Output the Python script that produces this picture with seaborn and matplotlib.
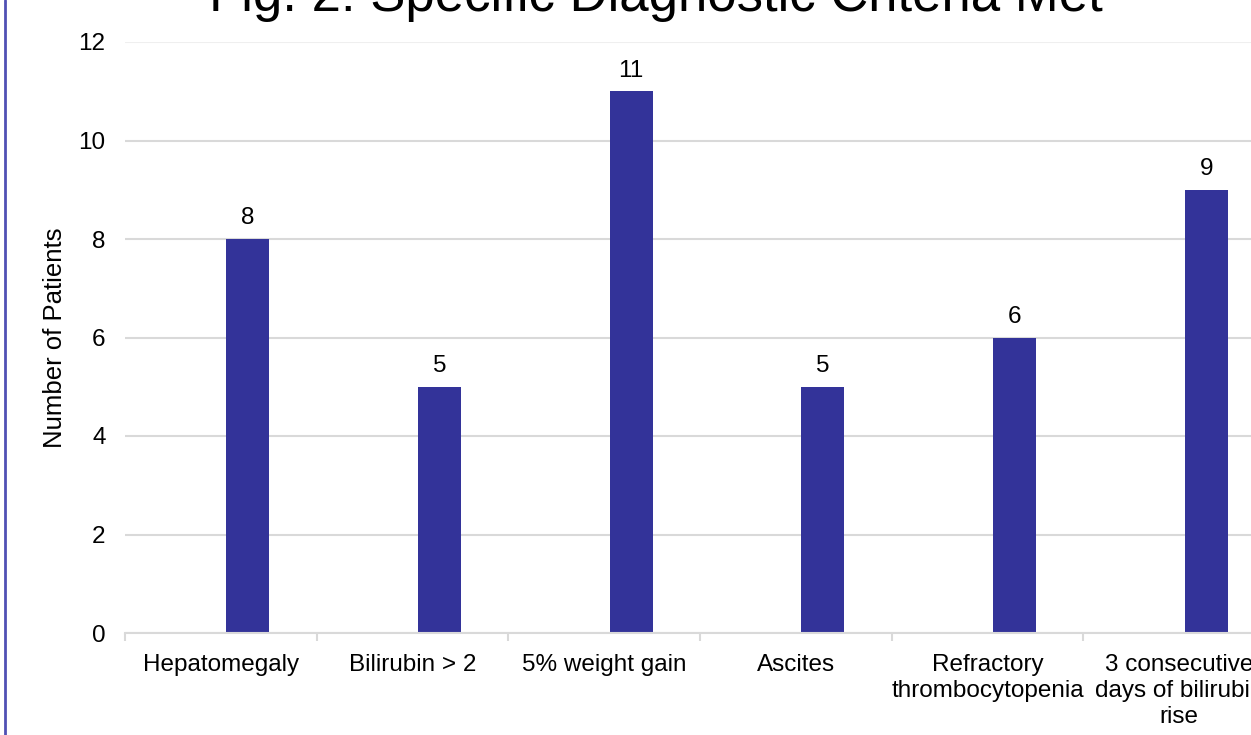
import matplotlib
matplotlib.use("Agg")
import matplotlib.pyplot as plt
import seaborn as sns
import pandas as pd
import numpy as np
from matplotlib.lines import Line2D

categories = ["Hepatomegaly", "Bilirubin > 2", "5% weight gain", "Ascites",
              "Refractory\nthrombocytopenia", "3 consecutive\ndays of bilirubin\nrise"]
patients = [8, 5, 11, 5, 6, 9]
y_ticks = [0, 2, 4, 6, 8, 10, 12]
title = "Fig. 2: Specific Diagnostic Criteria Met"
y_label = "Number of Patients"

sns.set_theme(style="white")
plt.rcParams['font.family'] = ['Liberation Sans', 'DejaVu Sans']
plt.rcParams['text.color'] = 'black'
plt.rcParams['xtick.color'] = 'black'
plt.rcParams['ytick.color'] = 'black'
plt.rcParams['axes.labelcolor'] = 'black'

W, H = 1251, 735
fig = plt.figure(figsize=(W / 100, H / 100), dpi=100)
fig.patch.set_facecolor("white")

# axes: left 125px, right 1275px (beyond crop), bottom y=633, top y=42
left, right = 125 / W, 1275 / W
bottom, top = 1 - 633 / H, 1 - 42 / H
ax = fig.add_axes([left, bottom, right - left, top - bottom])

df = pd.DataFrame({"cat": categories, "val": patients})
sns.barplot(data=df, x="cat", y="val", color="#333399", width=0.224,
            saturation=1, ax=ax)

# shift bars to the right (secondary series position in a clustered layout)
offset = 0.141
for p in ax.patches:
    p.set_x(p.get_x() + offset)
    p.set_edgecolor("none")

ax.bar_label(ax.containers[0], labels=[str(v) for v in patients],
             padding=7, fontsize=17.5, color="black")

ax.set_xlim(-0.5, len(categories) - 0.5)
ax.set_ylim(0, 12)
ax.set_yticks(y_ticks)
ax.set_yticklabels([str(t) for t in y_ticks], fontsize=17.5)
ax.tick_params(axis="y", length=0, pad=14, colors="black")
ax.set_xticks(range(len(categories)))
ax.set_xticklabels(categories, fontsize=17.5, linespacing=1.25)
ax.tick_params(axis="x", which="major", length=0, pad=15, colors="black")
ax.set_xticks(np.arange(-0.5, len(categories), 1.0), minor=True)
ax.tick_params(axis="x", which="minor", length=6, width=1.5, color="#d9d9d9",
               direction="out", bottom=True)

ax.set_xlabel("")
ax.set_ylabel(y_label, fontsize=18.5, labelpad=8, color="black")

ax.yaxis.grid(True, color="#d9d9d9", linewidth=1.5)
ax.set_axisbelow(True)
for s in ["top", "right", "left"]:
    ax.spines[s].set_visible(False)
ax.spines["bottom"].set_color("#d9d9d9")
ax.spines["bottom"].set_linewidth(1.5)
gl = ax.get_ygridlines()
gl[-1].set_color("#efefef")

fig.text(656 / W, 1 - 11 / H, title, fontsize=38, ha="center",
         va="baseline", color="black")

fig.add_artist(Line2D([5 / W, 5 / W], [0, 1], color="#5050b4", linewidth=2,
                      transform=fig.transFigure))

fig.savefig("out.png", dpi=100)
